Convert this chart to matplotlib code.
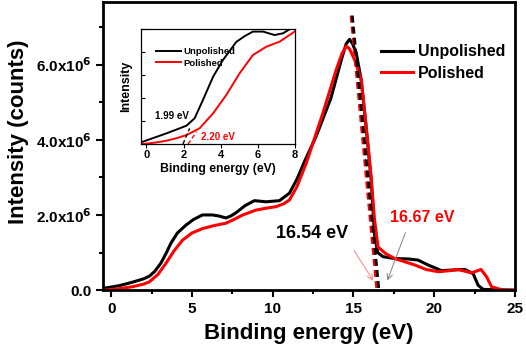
import matplotlib
matplotlib.use('Agg')
import matplotlib.pyplot as plt
from matplotlib.ticker import MultipleLocator, FuncFormatter
import numpy as np

plt.rcParams['font.family'] = ['Liberation Sans', 'DejaVu Sans']
plt.rcParams['font.weight'] = 'bold'
plt.rcParams['mathtext.default'] = 'bf'

# main spectrum (binding energy in eV, intensity in units of 1e6 counts)
x_unpol = [-0.45, 0.5, 1.3, 2.0, 2.36, 2.7, 3.08, 3.4, 3.7, 4.1, 4.63, 5.1, 5.65, 6.27,
           6.7, 7.1, 7.4, 7.7, 8.3, 8.87, 9.6, 10.42, 11.04, 11.5, 12.0, 12.7, 13.6,
           14.3, 14.55, 14.76, 14.95, 15.17, 15.48, 15.8, 16.1, 16.3, 16.5, 16.83,
           17.56, 18.4, 19.0, 19.62, 20.45, 21.3, 21.9, 22.41, 22.72, 23.04, 25.0]
y_unpol = [0.05, 0.12, 0.21, 0.3, 0.37, 0.5, 0.72, 0.98, 1.25, 1.52, 1.73, 1.88, 2.0, 2.0,
           1.97, 1.92, 1.97, 2.05, 2.25, 2.38, 2.35, 2.38, 2.58, 2.95, 3.45, 4.1, 5.1,
           6.2, 6.55, 6.67, 6.55, 6.31, 5.6, 4.27, 2.93, 1.5, 1.0, 0.89,
           0.84, 0.83, 0.8, 0.67, 0.52, 0.54, 0.55, 0.44, 0.13, 0.02, 0.0]

x_pol = [-0.45, 0.5, 1.3, 2.0, 2.36, 2.9, 3.4, 3.9, 4.42, 5.0, 5.67, 6.4, 7.1, 7.6, 8.15,
         8.97, 9.6, 10.2, 10.7, 11.04, 11.5, 12.08, 13.11, 13.94, 14.3, 14.56, 14.75,
         15.07, 15.48, 15.8, 16.1, 16.3, 16.52, 17.0, 17.56, 18.8, 19.5, 20.25, 21.0,
         21.49, 22.3, 22.9, 23.24, 23.55, 24.2, 25.0]
y_pol = [0.0, 0.04, 0.09, 0.16, 0.22, 0.42, 0.72, 1.05, 1.33, 1.52, 1.64, 1.72, 1.78, 1.88,
         2.0, 2.13, 2.18, 2.22, 2.3, 2.4, 2.75, 3.38, 4.71, 5.87, 6.3, 6.49, 6.42,
         6.13, 5.6, 4.3, 2.98, 1.9, 1.15, 0.97, 0.84, 0.67, 0.55, 0.49, 0.52,
         0.55, 0.46, 0.55, 0.36, 0.09, 0.01, 0.0]

# inset: low binding energy region (arbitrary units)
xi_unpol = [-0.2, 0.5, 1.08, 1.6, 2.16, 2.6, 3.05, 3.6, 4.13, 4.85, 5.3, 5.75, 6.3,
            6.92, 7.37, 7.73, 8.0]
yi_unpol = [2, 6, 9.3, 12.5, 16, 22.4, 38.4, 58.7, 73.2, 89, 94, 98, 98,
            95, 96.5, 100, 104]
xi_pol = [-0.2, 0.5, 1.08, 1.6, 2.16, 2.87, 3.6, 4.31, 5.03, 5.75, 6.47, 7.19, 8.0]
yi_pol = [0, 1.3, 2.9, 5, 7.8, 13.7, 26.8, 42.7, 61.6, 77.6, 84.8, 89.2, 98]

fig = plt.figure(figsize=(5.26, 3.53), dpi=100)
ax = fig.add_axes([0.196, 0.178, 0.783, 0.815])

ax.plot(x_unpol, np.array(y_unpol) * 1e6, color='black', lw=2.2, label='Unpolished',
        solid_joinstyle='round')
ax.plot(x_pol, np.array(y_pol) * 1e6, color='red', lw=2.2, label='Polished',
        solid_joinstyle='round')

# tangent lines for the cut-off
ax.plot([14.85, 16.45], [7.3e6, 0], color='red', lw=2, ls=(0, (2.5, 1.5)))
ax.plot([14.93, 16.58], [7.3e6, 0], color='black', lw=2, ls=(0, (2.5, 1.5)))

ax.text(10.2, 1.5e6, '16.54 eV', color='black', fontsize=13, fontweight='bold', va='center')
ax.text(17.25, 1.92e6, '16.67 eV', color='red', fontsize=11.5, fontweight='bold', va='center')
ax.annotate('', xy=(16.31, 0.19e6), xytext=(14.95, 1.12e6),
            arrowprops=dict(arrowstyle='->', color='#ff8080', lw=0.7))
ax.annotate('', xy=(17.04, 0.19e6), xytext=(18.28, 1.6e6),
            arrowprops=dict(arrowstyle='->', color='gray', lw=0.7))

ax.set_xlim(-0.5, 25)
ax.set_ylim(0, 7.65e6)
ax.xaxis.set_major_locator(MultipleLocator(5))
ax.xaxis.set_minor_locator(MultipleLocator(2.5))
ax.yaxis.set_major_locator(MultipleLocator(2e6))
ax.yaxis.set_minor_locator(MultipleLocator(1e6))


def fmt(v, pos):
    if v == 0:
        return '0.0'
    return r'%.1fx10$^{6}$' % (v / 1e6)


ax.yaxis.set_major_formatter(FuncFormatter(fmt))
ax.tick_params(which='both', direction='out', width=1.5, labelsize=11)
ax.tick_params(which='major', length=5)
ax.tick_params(which='minor', length=3)
for s in ax.spines.values():
    s.set_linewidth(2)
ax.set_xlabel('Binding energy (eV)', fontsize=16, fontweight='bold', labelpad=5)
ax.set_ylabel('Intensity (counts)', fontsize=16, fontweight='bold')
ax.yaxis.set_label_coords(-0.18, 0.55)

leg = ax.legend(loc='upper left', bbox_to_anchor=(0.64, 0.905), frameon=False,
                fontsize=11.5, handlelength=2.0, handletextpad=0.3, labelspacing=0.4)

# inset
axi = fig.add_axes([0.269, 0.592, 0.291, 0.325])
axi.plot(xi_unpol, yi_unpol, color='black', lw=1.4, label='Unpolished')
axi.plot(xi_pol, yi_pol, color='red', lw=1.4, label='Polished')
axi.plot([1.97, 2.33], [0, 13.7], color='black', lw=1, ls=(0, (3, 2)))
axi.plot([2.25, 2.7], [0, 10.7], color='red', lw=1, ls=(0, (3, 2)))
axi.text(0.45, 24, '1.99 eV', color='black', fontsize=7, fontweight='bold', va='center')
axi.text(2.97, 6.4, '2.20 eV', color='red', fontsize=7, fontweight='bold', va='center')
axi.set_xlim(-0.27, 8)
axi.set_ylim(0, 100)
axi.xaxis.set_major_locator(MultipleLocator(2))
axi.yaxis.set_major_locator(MultipleLocator(20))
axi.set_yticklabels([])
axi.tick_params(axis='y', direction='in', length=3, width=0.8)
axi.tick_params(axis='x', direction='out', length=3, width=0.8, labelsize=8, pad=1.5)
for s in axi.spines.values():
    s.set_linewidth(0.9)
axi.set_xlabel('Binding energy (eV)', fontsize=8.8, fontweight='bold', labelpad=2)
axi.set_ylabel('Intensity', fontsize=9, fontweight='bold', labelpad=3)
axi.legend(loc='upper left', bbox_to_anchor=(0.07, 0.88), frameon=False, fontsize=6.8,
           handlelength=2.6, handletextpad=0.3, labelspacing=0.3, borderaxespad=0)

fig.savefig('out.png', dpi=100)
